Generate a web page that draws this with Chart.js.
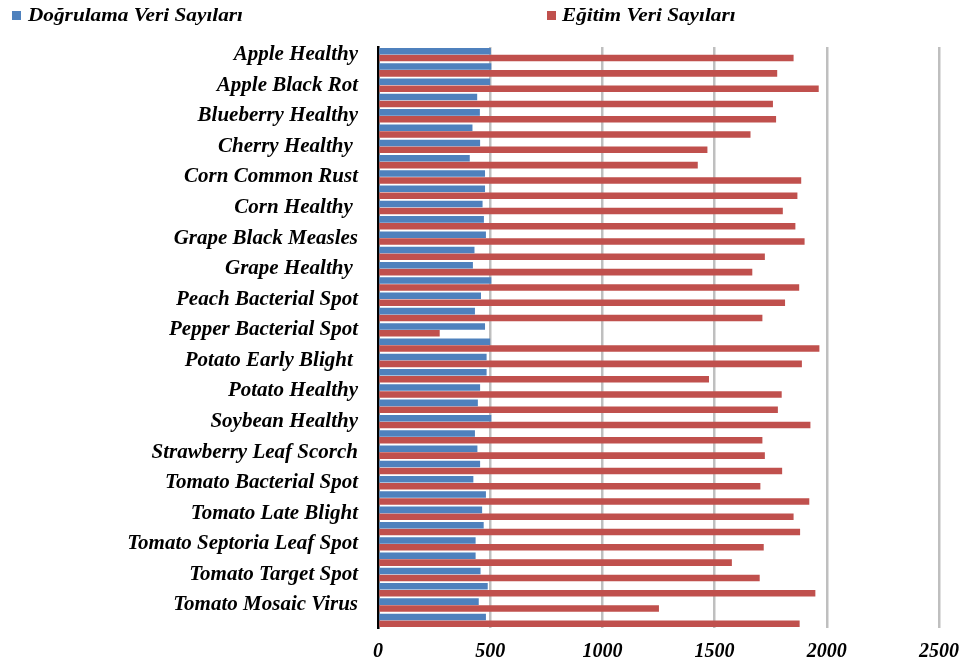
<!DOCTYPE html>
<html>
<head>
<meta charset="utf-8">
<script src="https://cdn.jsdelivr.net/npm/chart.js@4/dist/chart.umd.min.js"></script>
<style>
html,body{margin:0;padding:0;background:#fff;}
#wrap{width:968px;height:668px;position:relative;}
</style>
</head>
<body>
<div id="wrap"><canvas id="c" width="968" height="668"></canvas></div>
<script>
const categories = [
  "Apple Healthy","Apple Scab","Apple Black Rot","Apple Cedar Rust","Blueberry Healthy",
  "Cherry Powdery Mildew","Cherry Healthy ","Corn Cercospora Leaf Spot","Corn Common Rust",
  "Corn Northern Leaf Blight","Corn Healthy ","Grape Black Rot","Grape Black Measles",
  "Grape Leaf Blight","Grape Healthy ","Orange Haunglongbing","Peach Bacterial Spot",
  "Peach Healthy","Pepper Bacterial Spot","Pepper Healthy","Potato Early Blight ",
  "Potato Late Blight","Potato Healthy","Raspberry Healthy","Soybean Healthy",
  "Squash Powdery Mildew","Strawberry Leaf Scorch","Strawberry Healthy","Tomato Bacterial Spot",
  "Tomato Early Blight","Tomato Late Blight","Tomato Leaf Mold","Tomato Septoria Leaf Spot",
  "Tomato Spider Mites","Tomato Target Spot","Tomato Yellow Leaf Curl Virus","Tomato Mosaic Virus",
  "Tomato Healthy"
];
const validationCounts = [503,505,500,442,454,421,455,409,477,477,
  466,472,481,430,423,505,459,432,477,500,
  484,484,455,445,505,432,443,455,425,481,
  464,471,435,435,457,489,449,481];
const trainingCounts = [1852,1779,1964,1760,1774,1660,1468,1425,1886,1869,
  1804,1860,1901,1724,1668,1877,1814,1713,275,1967,
  1889,1475,1799,1782,1927,1713,1724,1801,1704,1922,
  1852,1881,1719,1577,1701,1949,1252,1879];
const seriesNames = ["Doğrulama Veri Sayıları","Eğitim Veri Sayıları"];
const xTicks = [0,500,1000,1500,2000,2500];

const FONT = '"Liberation Serif","Times New Roman",serif';

const legendPlugin = {
  id: 'customLegend',
  afterDraw(chart) {
    const ctx = chart.ctx;
    const pos = [{box:12, text:28}, {box:547, text:562}];
    ctx.save();
    ctx.font = 'italic bold 19px ' + FONT;
    ctx.textBaseline = 'alphabetic';
    const w0 = ctx.measureText(chart.data.datasets[0].label).width;
    const sx = 215 / w0;
    chart.data.datasets.forEach((ds, i) => {
      ctx.fillStyle = ds.backgroundColor;
      ctx.fillRect(pos[i].box, 11, 9, 9);
      ctx.save();
      ctx.translate(pos[i].text, 21);
      ctx.scale(sx, 1);
      ctx.fillStyle = '#000';
      ctx.fillText(ds.label, 0, 0);
      ctx.restore();
    });
    ctx.restore();
  }
};

new Chart(document.getElementById('c'), {
  type: 'bar',
  data: {
    labels: categories,
    datasets: [
      {label: seriesNames[0], data: validationCounts, backgroundColor: '#4F81BD',
       barPercentage: 0.95, categoryPercentage: 0.9},
      {label: seriesNames[1], data: trainingCounts, backgroundColor: '#C0504D',
       barPercentage: 0.95, categoryPercentage: 0.9}
    ]
  },
  options: {
    indexAxis: 'y',
    responsive: false,
    animation: false,
    layout: {padding: {top: 47, right: 29, bottom: 0, left: 0}},
    plugins: {legend: {display: false}, tooltip: {enabled: false}},
    scales: {
      x: {
        min: 0, max: 2500,
        afterBuildTicks: (s) => { s.ticks = xTicks.map(v => ({value: v})); },
        afterFit: (s) => { s.height = 40; },
        grid: {
          drawTicks: true,
          tickLength: 10,
          tickColor: 'rgba(0,0,0,0)',
          color: (c) => c.tick && c.tick.value === 0 ? 'rgba(0,0,0,0)' : '#BFBFBF',
          lineWidth: 2.5
        },
        border: {display: false},
        ticks: {
          padding: 2,
          color: '#000',
          font: {family: FONT, size: 20, style: 'italic', weight: 'bold'},
          callback: (v) => String(v)
        }
      },
      y: {
        afterFit: (s) => { s.width = 378; },
        grid: {display: false, drawTicks: false},
        border: {display: true, color: '#000', width: 2.5},
        ticks: {
          autoSkip: false,
          padding: 20,
          color: '#000',
          font: {family: FONT, size: 21, style: 'italic', weight: 'bold'},
          callback: (v, i) => (i % 2 === 0 ? categories[i] : '')
        }
      }
    }
  },
  plugins: [legendPlugin]
});
</script>
</body>
</html>
